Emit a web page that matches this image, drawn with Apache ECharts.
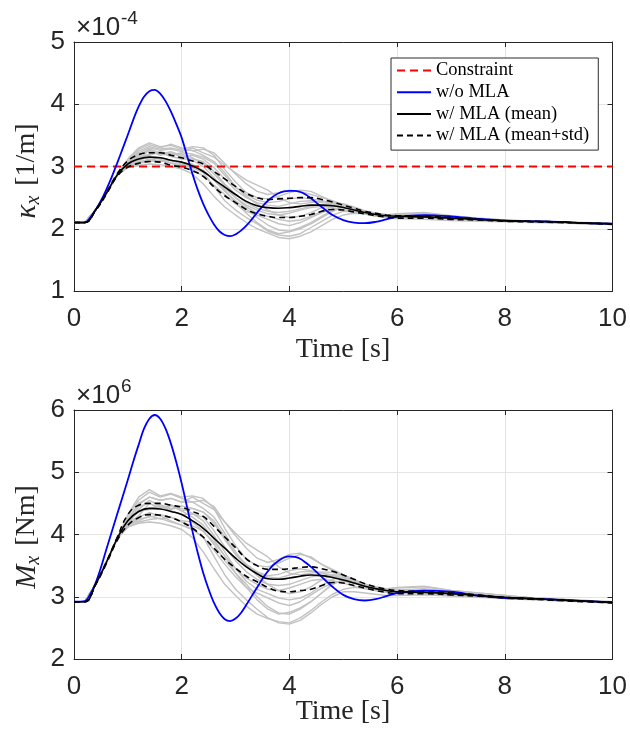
<!DOCTYPE html>
<html><head><meta charset="utf-8">
<script src="https://cdn.jsdelivr.net/npm/echarts@6/dist/echarts.min.js"></script>
<style>html,body{margin:0;padding:0;background:#fff}#chart{width:630px;height:733px}</style>
</head><body><div id="chart"></div>
<script>
// ---------------- DATA ----------------
const time = [0,0.2,0.4,0.6,0.8,1.0,1.2,1.4,1.6,1.8,2.0,2.2,2.4,2.6,2.8,3.0,3.2,3.4,3.6,3.8,4.0,4.2,4.4,4.6,4.8,5.0,5.2,5.4,5.6,5.8,6.0,6.5,7.0,7.5,8.0,8.5,9.0,9.5,10];
const timeNoMLA = [0,0.2,0.3,0.4,0.5,0.6,0.7,0.8,0.9,1.0,1.1,1.2,1.3,1.4,1.5,1.6,1.7,1.8,1.9,2.0,2.1,2.2,2.3,2.4,2.5,2.6,2.7,2.8,2.9,3.0,3.1,3.2,3.3,3.4,3.5,3.6,3.7,3.8,3.9,4.0,4.1,4.2,4.3,4.4,4.5,4.6,4.8,5.0,5.2,5.4,5.6,5.8,6.0,6.5,7.0,7.5,8.0,8.5,9.0,9.5,10];
const xTicks = [0,2,4,6,8,10];
const kappaTicks = [1,2,3,4,5];
const momentTicks = [2,3,4,5,6];
const kappaConstraint = 3.0;

// curvature kappa_x (x1e-4)
const kappaNoMLA = [2.1,2.1,2.18,2.3,2.45,2.63,2.83,3.05,3.28,3.51,3.75,3.96,4.12,4.21,4.23,4.17,4.05,3.88,3.68,3.46,3.17,2.88,2.62,2.40,2.22,2.07,1.96,1.9,1.88,1.91,1.97,2.05,2.15,2.26,2.36,2.45,2.52,2.57,2.6,2.61,2.61,2.59,2.55,2.49,2.42,2.35,2.22,2.14,2.10,2.09,2.11,2.15,2.19,2.22,2.2,2.16,2.13,2.12,2.11,2.09,2.08];
const kappaMean  = [2.1,2.1,2.3,2.57,2.86,3.04,3.12,3.15,3.14,3.10,3.07,3.01,2.92,2.79,2.67,2.55,2.44,2.37,2.34,2.33,2.34,2.36,2.38,2.38,2.37,2.34,2.30,2.26,2.23,2.21,2.20,2.19,2.17,2.15,2.13,2.12,2.11,2.09,2.08];
const kappaUpper = [2.1,2.1,2.3,2.58,2.88,3.09,3.19,3.22,3.22,3.18,3.14,3.09,3.04,2.92,2.80,2.68,2.57,2.50,2.47,2.48,2.49,2.50,2.50,2.47,2.43,2.38,2.33,2.28,2.25,2.22,2.21,2.20,2.18,2.15,2.13,2.12,2.11,2.09,2.08];
const kappaLower = [2.1,2.1,2.29,2.55,2.84,2.99,3.05,3.08,3.07,3.02,2.99,2.93,2.84,2.67,2.53,2.42,2.31,2.24,2.20,2.18,2.18,2.20,2.23,2.28,2.31,2.30,2.27,2.24,2.21,2.19,2.17,2.17,2.15,2.14,2.12,2.11,2.10,2.09,2.07];
const kappaRunStart = [2.1,2.1,2.3,2.57,2.86];
const kappaRun1 = [3.1,3.28,3.35,3.3,3.36,3.3,3.25,3.28,3.22,3.05,2.88,2.72,2.6,2.55,2.58,2.62,2.6,2.55,2.5,2.45,2.38,2.32,2.27,2.24,2.22,2.23,2.25,2.2,2.17,2.14,2.12,2.11,2.09,2.08];
const kappaRun2 = [2.98,3.02,3.04,3.03,3.0,2.96,2.88,2.72,2.52,2.35,2.22,2.1,2.0,1.93,1.86,1.84,1.88,1.95,2.05,2.15,2.22,2.25,2.24,2.21,2.18,2.16,2.15,2.13,2.12,2.11,2.1,2.09,2.08,2.07];
const kappaRun3 = [3.05,3.2,3.25,3.18,3.22,3.15,3.18,3.12,2.98,2.8,2.62,2.5,2.42,2.38,2.36,2.4,2.44,2.45,2.42,2.4,2.36,2.31,2.27,2.24,2.21,2.19,2.21,2.18,2.16,2.13,2.12,2.11,2.1,2.08];
const kappaRun4 = [3.02,3.1,3.15,3.12,3.05,3.0,2.95,2.85,2.7,2.55,2.4,2.28,2.22,2.15,2.08,2.05,2.1,2.18,2.26,2.32,2.34,2.32,2.28,2.24,2.2,2.18,2.2,2.16,2.15,2.13,2.12,2.1,2.09,2.08];
const kappaRun5 = [3.08,3.22,3.3,3.26,3.28,3.24,3.3,3.22,3.15,3.02,2.9,2.78,2.7,2.62,2.5,2.42,2.4,2.42,2.44,2.43,2.4,2.34,2.28,2.25,2.23,2.22,2.24,2.2,2.16,2.13,2.12,2.11,2.09,2.08];
const kappaRun6 = [3.0,3.08,3.1,3.14,3.1,3.06,3.04,2.92,2.8,2.65,2.5,2.35,2.25,2.2,2.15,2.12,2.14,2.2,2.28,2.36,2.38,2.33,2.27,2.23,2.2,2.19,2.2,2.17,2.15,2.13,2.12,2.11,2.09,2.08];
const kappaRun7 = [3.06,3.15,3.2,3.22,3.16,3.12,3.12,3.08,2.92,2.72,2.55,2.42,2.33,2.28,2.26,2.28,2.32,2.36,2.38,2.37,2.35,2.3,2.26,2.23,2.21,2.2,2.22,2.18,2.16,2.13,2.12,2.11,2.09,2.08];
const kappaRun8 = [3.04,3.12,3.26,3.2,3.24,3.18,3.1,3.0,2.82,2.62,2.42,2.25,2.1,1.98,1.92,1.95,2.0,2.08,2.18,2.28,2.35,2.32,2.27,2.22,2.19,2.18,2.19,2.16,2.14,2.12,2.11,2.1,2.08,2.07];
const kappaRun9 = [3.12,3.3,3.38,3.32,3.34,3.28,3.32,3.3,3.18,2.95,2.75,2.58,2.5,2.48,2.52,2.58,2.62,2.6,2.52,2.44,2.36,2.3,2.26,2.23,2.22,2.24,2.26,2.21,2.17,2.14,2.12,2.11,2.09,2.08];
const kappaRun10 = [2.99,3.05,3.08,3.1,3.06,3.02,2.98,2.9,2.68,2.45,2.3,2.18,2.08,1.96,1.9,1.88,1.92,2.02,2.12,2.22,2.28,2.27,2.24,2.2,2.18,2.17,2.18,2.15,2.14,2.12,2.11,2.1,2.08,2.07];
const kappaRun11 = [3.03,3.16,3.18,3.24,3.2,3.2,3.14,3.05,2.88,2.7,2.5,2.38,2.3,2.24,2.22,2.25,2.3,2.34,2.36,2.34,2.31,2.27,2.24,2.22,2.2,2.2,2.22,2.18,2.16,2.13,2.12,2.11,2.09,2.08];
const kappaRun12 = [3.07,3.25,3.32,3.28,3.3,3.26,3.26,3.18,3.08,2.9,2.68,2.52,2.4,2.3,2.22,2.18,2.2,2.26,2.34,2.4,2.4,2.35,2.29,2.25,2.22,2.21,2.23,2.19,2.16,2.13,2.12,2.11,2.09,2.08];
const kappaRun13 = [3.01,3.06,3.12,3.08,3.1,3.04,3.0,2.94,2.78,2.6,2.45,2.32,2.18,2.06,1.98,1.96,2.02,2.1,2.2,2.3,2.36,2.34,2.28,2.23,2.2,2.18,2.2,2.16,2.15,2.13,2.12,2.1,2.09,2.08];
const kappaRun14 = [3.05,3.18,3.28,3.22,3.18,3.22,3.2,3.15,3.05,2.86,2.66,2.55,2.46,2.42,2.44,2.48,2.5,2.48,2.45,2.41,2.37,2.32,2.27,2.24,2.21,2.2,2.22,2.18,2.16,2.13,2.12,2.11,2.09,2.08];

// bending moment M_x (x1e6)
const momentNoMLA = [2.92,2.93,3.04,3.22,3.47,3.76,4.04,4.32,4.6,4.88,5.17,5.44,5.7,5.86,5.92,5.86,5.7,5.46,5.16,4.82,4.44,4.05,3.7,3.38,3.12,2.9,2.74,2.64,2.61,2.65,2.74,2.87,3.01,3.15,3.29,3.41,3.51,3.58,3.63,3.65,3.64,3.61,3.55,3.48,3.4,3.32,3.16,3.03,2.96,2.94,2.96,3.01,3.06,3.10,3.08,3.02,2.98,2.97,2.95,2.93,2.91];
const momentMean  = [2.92,2.92,3.2,3.55,3.93,4.22,4.37,4.42,4.41,4.37,4.32,4.22,4.10,3.94,3.78,3.62,3.48,3.37,3.29,3.28,3.30,3.33,3.35,3.34,3.31,3.27,3.22,3.17,3.13,3.10,3.08,3.07,3.05,3.02,2.99,2.97,2.95,2.93,2.91];
const momentUpper = [2.92,2.92,3.2,3.56,3.95,4.32,4.47,4.50,4.50,4.47,4.44,4.37,4.29,4.13,3.96,3.79,3.61,3.50,3.44,3.44,3.45,3.47,3.48,3.45,3.41,3.35,3.28,3.21,3.16,3.12,3.10,3.08,3.06,3.03,2.99,2.97,2.95,2.93,2.91];
const momentLower = [2.92,2.92,3.19,3.53,3.90,4.15,4.27,4.32,4.31,4.27,4.20,4.10,3.96,3.78,3.60,3.46,3.33,3.24,3.15,3.09,3.08,3.10,3.12,3.18,3.23,3.22,3.18,3.14,3.10,3.07,3.05,3.05,3.03,3.01,2.98,2.96,2.94,2.92,2.90];
const momentRunStart = [2.92,2.92,3.2,3.55,3.93];
const momentRun1 = [4.3,4.55,4.68,4.6,4.65,4.58,4.52,4.55,4.45,4.2,3.98,3.78,3.62,3.55,3.6,3.68,3.7,3.62,3.52,3.44,3.35,3.27,3.2,3.16,3.13,3.14,3.16,3.1,3.06,3.02,2.98,2.96,2.94,2.92];
const momentRun2 = [4.12,4.18,4.2,4.18,4.14,4.08,3.95,3.72,3.45,3.2,3.02,2.85,2.72,2.65,2.6,2.58,2.66,2.78,2.92,3.04,3.12,3.15,3.13,3.1,3.07,3.05,3.04,3.02,3.0,2.98,2.96,2.94,2.92,2.9];
const momentRun3 = [4.2,4.45,4.5,4.42,4.48,4.38,4.42,4.36,4.18,3.92,3.68,3.5,3.38,3.32,3.3,3.35,3.4,3.41,3.38,3.35,3.3,3.23,3.17,3.13,3.1,3.08,3.1,3.07,3.04,3.01,2.98,2.96,2.93,2.91];
const momentRun4 = [4.16,4.28,4.35,4.3,4.22,4.15,4.08,3.95,3.75,3.52,3.32,3.15,3.06,2.98,2.9,2.86,2.92,3.03,3.14,3.22,3.25,3.22,3.17,3.12,3.08,3.06,3.08,3.05,3.03,3.0,2.97,2.95,2.93,2.91];
const momentRun5 = [4.26,4.48,4.6,4.55,4.58,4.52,4.6,4.5,4.4,4.2,4.02,3.86,3.75,3.64,3.48,3.38,3.35,3.38,3.4,3.39,3.35,3.27,3.2,3.15,3.12,3.11,3.13,3.09,3.05,3.02,2.98,2.96,2.93,2.91];
const momentRun6 = [4.14,4.25,4.28,4.32,4.28,4.22,4.2,4.05,3.88,3.66,3.45,3.25,3.12,3.05,2.98,2.95,2.98,3.06,3.18,3.28,3.32,3.26,3.18,3.13,3.09,3.08,3.09,3.06,3.04,3.01,2.98,2.96,2.93,2.91];
const momentRun7 = [4.22,4.36,4.42,4.45,4.38,4.32,4.33,4.28,4.06,3.8,3.58,3.4,3.28,3.2,3.18,3.2,3.26,3.32,3.34,3.33,3.3,3.23,3.17,3.13,3.1,3.09,3.11,3.07,3.04,3.01,2.98,2.96,2.93,2.91];
const momentRun8 = [4.18,4.3,4.5,4.42,4.46,4.38,4.28,4.15,3.92,3.65,3.38,3.15,2.95,2.8,2.72,2.75,2.82,2.92,3.06,3.2,3.28,3.24,3.17,3.11,3.07,3.06,3.07,3.04,3.02,3.0,2.97,2.95,2.93,2.9];
const momentRun9 = [4.32,4.6,4.72,4.62,4.66,4.6,4.62,4.58,4.42,4.1,3.82,3.6,3.5,3.48,3.54,3.62,3.68,3.64,3.52,3.42,3.32,3.24,3.18,3.14,3.12,3.15,3.17,3.1,3.06,3.02,2.98,2.96,2.94,2.92];
const momentRun10 = [4.12,4.2,4.24,4.26,4.2,4.15,4.08,3.96,3.65,3.35,3.12,2.95,2.8,2.66,2.58,2.56,2.62,2.74,2.88,3.0,3.08,3.08,3.06,3.04,3.02,3.02,3.03,3.01,2.99,2.97,2.95,2.93,2.92,2.9];
const momentRun11 = [4.18,4.38,4.4,4.48,4.42,4.42,4.34,4.22,3.98,3.72,3.45,3.3,3.2,3.12,3.1,3.14,3.2,3.26,3.28,3.26,3.22,3.17,3.13,3.1,3.08,3.08,3.1,3.06,3.04,3.01,2.98,2.96,2.93,2.91];
const momentRun12 = [4.24,4.5,4.6,4.55,4.58,4.52,4.52,4.42,4.28,4.02,3.72,3.5,3.34,3.2,3.1,3.05,3.08,3.16,3.27,3.35,3.35,3.28,3.2,3.14,3.1,3.09,3.11,3.07,3.04,3.01,2.98,2.96,2.93,2.91];
const momentRun13 = [4.15,4.22,4.3,4.25,4.28,4.2,4.14,4.06,3.84,3.58,3.38,3.2,3.0,2.84,2.74,2.72,2.8,2.92,3.06,3.2,3.28,3.25,3.17,3.11,3.07,3.06,3.08,3.05,3.03,3.0,2.97,2.95,2.93,2.91];
const momentRun14 = [4.2,4.4,4.55,4.46,4.4,4.46,4.42,4.36,4.22,3.96,3.68,3.52,3.4,3.34,3.36,3.42,3.45,3.42,3.38,3.33,3.28,3.22,3.16,3.12,3.09,3.08,3.1,3.06,3.04,3.01,2.98,2.96,2.93,2.91];

// ---------------- CHART ----------------
const myChart = echarts.init(document.getElementById('chart'), null, {renderer:'canvas'});
const kappaRuns = [kappaRun1,kappaRun2,kappaRun3,kappaRun4,kappaRun5,kappaRun6,kappaRun7,kappaRun8,kappaRun9,kappaRun10,kappaRun11,kappaRun12,kappaRun13,kappaRun14].map(r => kappaRunStart.concat(r));
const momentRuns = [momentRun1,momentRun2,momentRun3,momentRun4,momentRun5,momentRun6,momentRun7,momentRun8,momentRun9,momentRun10,momentRun11,momentRun12,momentRun13,momentRun14].map(r => momentRunStart.concat(r));
const pairs = (arr, tt) => (tt || time).map((t, i) => [t, arr[i]]);

const AX = '#262626';
const SANS = 'Liberation Sans, Arial, sans-serif';
const SERIF = 'Liberation Serif, Times New Roman, serif';

function xAx(grid, pos, main) {
  return {type:'value', gridIndex:grid, position:pos, min:xTicks[0], max:xTicks[xTicks.length-1], interval:xTicks[1]-xTicks[0],
    axisLine:{show:true, onZero:false, lineStyle:{color:AX, width:1}},
    axisTick:{show:true, inside:true, length:5, lineStyle:{color:AX, width:1}},
    axisLabel:{show:main, margin:15, color:AX, fontFamily:SANS, fontSize:26},
    splitLine:{show:main, lineStyle:{color:'#e4e4e4', width:1}}};
}
function yAx(grid, pos, main, ticks) {
  return {type:'value', gridIndex:grid, position:pos, min:ticks[0], max:ticks[ticks.length-1], interval:ticks[1]-ticks[0],
    axisLine:{show:true, onZero:false, lineStyle:{color:AX, width:1}},
    axisTick:{show:true, inside:true, length:5, lineStyle:{color:AX, width:1}},
    axisLabel:{show:main, margin:9, color:AX, fontFamily:SANS, fontSize:26},
    splitLine:{show:main, lineStyle:{color:'#e4e4e4', width:1}}};
}

const series = [];
function addPanel(xi, yi, runs, noMLA, mean, upper, lower) {
  runs.forEach(r => series.push({type:'line', xAxisIndex:xi, yAxisIndex:yi, data:pairs(r), symbol:'none', silent:true,
    lineStyle:{color:'#c2c2c2', width:1.4}, z:1}));
  if (xi === 0) {
    series.push({name:'Constraint', type:'line', xAxisIndex:xi, yAxisIndex:yi, symbol:'none', color:'#ff0000',
      data:[[xTicks[0], kappaConstraint],[xTicks[xTicks.length-1], kappaConstraint]],
      lineStyle:{color:'#ff0000', width:2, type:[8,5]}, z:2});
  }
  series.push({name:'w/o MLA', type:'line', xAxisIndex:xi, yAxisIndex:yi, data:pairs(noMLA, timeNoMLA), symbol:'none', smooth:0.35, color:'#0000ff',
    lineStyle:{color:'#0000ff', width:1.8}, z:3});
  series.push({name:'w/ MLA (mean)', type:'line', xAxisIndex:xi, yAxisIndex:yi, data:pairs(mean), symbol:'none', smooth:0.45, color:'#000000',
    lineStyle:{color:'#000000', width:1.6}, z:4});
  series.push({name:'w/ MLA (mean+std)', type:'line', xAxisIndex:xi, yAxisIndex:yi, data:pairs(upper), symbol:'none', smooth:0.45, color:'#000000',
    lineStyle:{color:'#000000', width:1.6, type:[6,4]}, z:4});
  series.push({name:'w/ MLA (mean+std)', type:'line', xAxisIndex:xi, yAxisIndex:yi, data:pairs(lower), symbol:'none', smooth:0.45, color:'#000000',
    lineStyle:{color:'#000000', width:1.6, type:[6,4]}, z:4});
}
addPanel(0, 0, kappaRuns, kappaNoMLA, kappaMean, kappaUpper, kappaLower);
addPanel(2, 2, momentRuns, momentNoMLA, momentMean, momentUpper, momentLower);

function txt(x, y, text, font, align, vAlign) {
  return {type:'text', x:x, y:y, z:100, style:{text:text, font:font, fill:AX, textAlign:align, textVerticalAlign:vAlign, align:align, verticalAlign:vAlign}};
}
function richLabel(x, y, sym, sub, unit) {
  return {type:'text', x:x, y:y, rotation:Math.PI/2, z:100, style:{
    text:'{k|' + sym + '}{s|' + sub + '}{n|' + unit + '}', fill:AX, textAlign:'center', textVerticalAlign:'middle', align:'center', verticalAlign:'middle',
    rich:{
      k:{fontFamily:SERIF, fontStyle:'italic', fontSize:29, lineHeight:34, verticalAlign:'middle', fill:AX, color:AX},
      s:{fontFamily:SERIF, fontStyle:'italic', fontSize:20, lineHeight:22, verticalAlign:'bottom', fill:AX, color:AX},
      n:{fontFamily:SERIF, fontSize:28, lineHeight:34, verticalAlign:'middle', padding:[0,0,0,10], fill:AX, color:AX}
    }}};
}

const option = {
  animation:false,
  backgroundColor:'#ffffff',
  grid:[
    {left:74, right:17, top:42, height:249},
    {left:74, right:17, top:410, height:249}
  ],
  xAxis:[xAx(0,'bottom',true), xAx(0,'top',false), xAx(1,'bottom',true), xAx(1,'top',false)],
  yAxis:[yAx(0,'left',true,kappaTicks), yAx(0,'right',false,kappaTicks), yAx(1,'left',true,momentTicks), yAx(1,'right',false,momentTicks)],
  legend:{
    data:['Constraint','w/o MLA','w/ MLA (mean)','w/ MLA (mean+std)'],
    orient:'vertical', left:391, top:58, itemWidth:34, itemHeight:0.01, itemGap:2.7,
    padding:[3,9,5,5], borderColor:'#2b2b2b', borderWidth:1, backgroundColor:'#ffffff', borderRadius:0,
    selectedMode:false,
    itemStyle:{opacity:0},
    textStyle:{fontFamily:SERIF, fontSize:18.5, color:'#000', lineHeight:18}
  },
  graphic:[
    txt(76, 28, '×10', '26px ' + SANS, 'left', 'middle'),
    txt(121, 19, '-4', '19px ' + SANS, 'left', 'middle'),
    txt(76, 396, '×10', '26px ' + SANS, 'left', 'middle'),
    txt(121, 387, '6', '19px ' + SANS, 'left', 'middle'),
    txt(343, 350, 'Time [s]', '28px ' + SERIF, 'center', 'middle'),
    txt(343, 712, 'Time [s]', '28px ' + SERIF, 'center', 'middle'),
    richLabel(27, 171, 'κ', 'x', '[1/m]'),
    richLabel(27, 537, 'M', 'x', '[Nm]')
  ],
  series:series
};
myChart.setOption(option);
</script></body></html>
